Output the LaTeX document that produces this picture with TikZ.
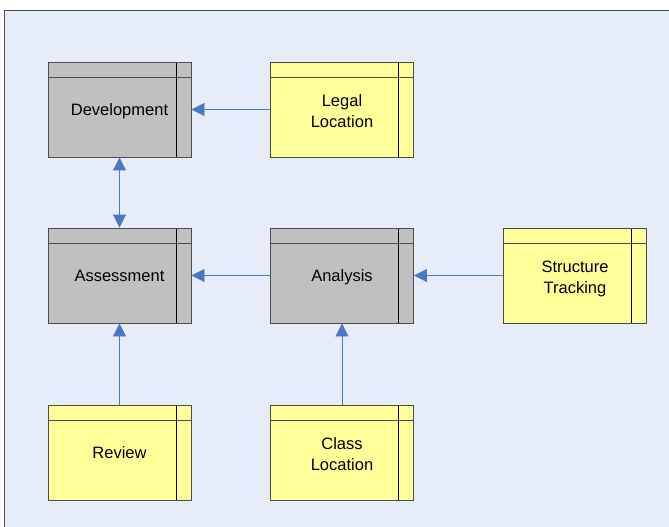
\documentclass[tikz,border=0pt]{standalone}
\usepackage{fontspec}
\setmainfont{Liberation Sans}
\usetikzlibrary{arrows.meta}
\definecolor{panelbg}{HTML}{E6EDF8}
\definecolor{boxgray}{HTML}{C0C0C0}
\definecolor{boxyellow}{HTML}{FFFF99}
\definecolor{linkblue}{HTML}{4A78C4}
\newcommand{\boxstrut}{\rule[-5pt]{0pt}{21.5pt}}
\newcommand{\toplift}{\rule{0pt}{19.5pt}}
\tikzset{
	entity/.style={draw=black!70,line width=0.9pt,minimum width=143pt,minimum height=95pt,inner sep=0pt,align=center,
		font=\fontsize{16.5}{21.5}\selectfont,
		execute at begin node=\boxstrut,execute at end node=\boxstrut,
		path picture={
			\draw[black!70,line width=1.2pt] ([yshift=-15.5pt]path picture bounding box.north west) -- ([yshift=-15.5pt]path picture bounding box.north east);
			\draw[black,line width=0.9pt] ([xshift=-15pt]path picture bounding box.north east) -- ([xshift=-15pt]path picture bounding box.south east);
		}},
	core/.style={entity,fill=boxgray},
	source/.style={entity,fill=boxyellow},
	link/.style={draw=linkblue,line width=0.9pt,-{Triangle[length=13pt,width=13pt]},linkblue}
}
\begin{document}
\begin{tikzpicture}[x=1pt,y=-1pt]
	\useasboundingbox (0,0) rectangle (669,527);
	\fill[panelbg] (4.5,10.5) rectangle (669,527);
	\draw[black!70,line width=1pt] (4.5,527) -- (4.5,10.5) -- (669,10.5);
	
	\node[core] (dev) at (119.5,109.5) {Development};
	\node[source] (legal) at (342,109.5) {\toplift Legal\\Location};
	\node[core] (assess) at (119.5,275.5) {Assessment};
	\node[core] (anal) at (342,275.5) {Analysis};
	\node[source] (struct) at (575,275.5) {\toplift Structure\\Tracking};
	\node[source] (review) at (119.5,452.5) {Review};
	\node[source] (class) at (342,452.5) {\toplift Class\\Location};
	
	\draw[link] (legal) -- (dev);
	\draw[link,{Triangle[length=13pt,width=13pt]}-{Triangle[length=13pt,width=13pt]}] (dev) -- (assess);
	\draw[link] (anal) -- (assess);
	\draw[link] (struct) -- (anal);
	\draw[link] (review) -- (assess);
	\draw[link] (class) -- (anal);
\end{tikzpicture}
\end{document}
